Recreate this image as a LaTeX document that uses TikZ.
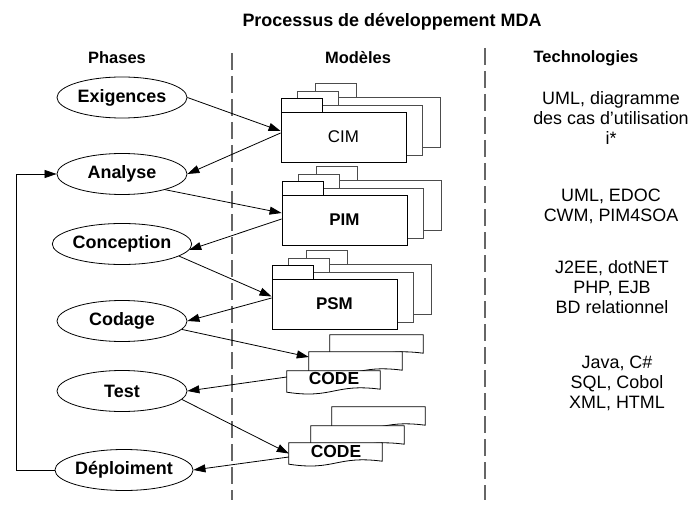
\documentclass[tikz,border=0pt]{standalone}
\usepackage{fontspec}
\setmainfont{Liberation Sans}
\usetikzlibrary{shapes.geometric,arrows.meta}
\newcommand\pkgstack[4]{%
  \foreach \dx/\dy in {34/15, 16/7} {
    \draw[backline] (#2+\dx, #3-\dy) rectangle ++(125,50);
    \draw[backline] (#2+\dx, #3-\dy) rectangle ++(41,-14);
  }
  \draw[frontline] (#2,#3) rectangle ++(41,-14);
  \node[pkgbox] (#1) at (#2+62.5, #3+25) {#4};
}
\newcommand\docshape[1]{%
  \draw[frontline] (#1.north west) -- (#1.north east) -- ([yshift=3bp]#1.south east)
    .. controls ([xshift=-46bp,yshift=9bp]#1.south east) and ([xshift=46bp,yshift=-7bp]#1.south west) .. (#1.south west) -- cycle;}
\begin{document}
\begin{tikzpicture}[x=1bp,y=-1bp,
  phase/.style={ellipse, draw, line width=0.8bp, minimum width=130bp, minimum height=41bp, inner sep=0pt, fill=white, font=\fontsize{18}{20}\selectfont\bfseries},
  pkgbox/.style={rectangle, draw=black, line width=0.8bp, fill=white, minimum width=125bp, minimum height=50bp, inner sep=0pt, font=\fontsize{17}{19.5}\selectfont},
  backline/.style={draw=black!70, line width=0.8bp, fill=white},
  frontline/.style={draw=black, line width=0.8bp, fill=white},
  docbox/.style={rectangle, minimum width=93bp, minimum height=21bp, inner sep=0pt},
  doctext/.style={font=\fontsize{17.5}{19.5}\selectfont\bfseries, inner sep=0pt},
  arr/.style={-{Triangle[length=12bp,width=8bp]}, line width=0.8bp},
  sepline/.style={draw=black!60, line width=1.2bp, dash pattern=on 17bp off 6bp},
  hdr/.style={font=\fontsize{16.5}{19}\selectfont\bfseries},
  tech/.style={align=center, inner sep=0pt, font=\fontsize{18}{20}\selectfont}
]
\useasboundingbox (0,0) rectangle (690,506);

% title and headers
\node[font=\fontsize{18}{21}\selectfont\bfseries] (title) at (392,22) {Processus de développement MDA};
\node[hdr] (hphases) at (117,58) {Phases};
\node[hdr] (hmodeles) at (358,58) {Modèles};
\node[hdr] (htech) at (586,58) {Technologies};

% separators
\coordinate (s1a) at (232,53);
\coordinate (s1b) at (232,500);
\coordinate (s2a) at (485,48);
\coordinate (s2b) at (485,500);
\draw[sepline] (s1a) -- (s1b);
\draw[sepline] (s2a) -- (s2b);

% phases
\node[phase] (exig) at (122,97.5) {Exigences};
\node[phase] (anal) at (122,174) {Analyse};
\node[phase] (conc) at (122,244) {Conception};
\node[phase] (coda) at (122,321) {Codage};
\node[phase] (test) at (122,391) {Test};
\node[phase, minimum width=132bp] (depl) at (124,470) {Déploiment};

% packages
\pkgstack{cim}{281}{112}{CIM}
\pkgstack{pim}{282}{195}{\bfseries PIM}
\pkgstack{psm}{272}{279}{\bfseries PSM}

% code documents, group 1
\node[docbox] (c1c) at (376.5,345.5) {};
\docshape{c1c}
\node[docbox] (c1b) at (355.5,362.5) {};
\docshape{c1b}
\node[docbox] (c1a) at (333.5,381.5) {};
\docshape{c1a}
\node[doctext] (c1t) at (334,378.5) {CODE};

% code documents, group 2
\node[docbox] (c2c) at (378.5,417.5) {};
\docshape{c2c}
\node[docbox] (c2b) at (357.5,436.5) {};
\docshape{c2b}
\node[docbox] (c2a) at (335.5,453.5) {};
\docshape{c2a}
\node[doctext] (c2t) at (336,451) {CODE};

% technologies
\node[tech] (t1) at (611,118) {UML, diagramme\\des cas d’utilisation\\i*};
\node[tech] (t2) at (611,206) {UML, EDOC\\CWM, PIM4SOA};
\node[tech] (t3) at (612,287) {J2EE, dotNET\\PHP, EJB\\BD relationnel};
\node[tech] (t4) at (617,383) {Java, C\#\\SQL, Cobol\\XML, HTML};

% connectors
\draw[arr] (exig.east) -- ([yshift=6bp]cim.west);
\draw[arr] ([yshift=4bp]cim.west) -- (anal.east);
\draw[arr] (anal.-20) -- ([yshift=7bp]pim.west);
\draw[arr] ([yshift=1bp]pim.west) -- (conc.-5);
\draw[arr] (conc.-12) -- ([yshift=7.5bp]psm.west);
\draw[arr] ([yshift=6bp]psm.west) -- (coda.east);
\draw[arr] (coda.-8) -- ([yshift=5.5bp]c1b.west);
\draw[arr] ([yshift=4.5bp]c1a.west) -- (test.east);
\draw[arr] (test.-8) -- (c2a.west);
\draw[arr] ([yshift=-3.5bp]c2a.west) -- (depl.east);

% feedback loop
\coordinate (fb) at (16,470);
\draw[arr] (depl.west) -- (fb) |- (anal.west);
\end{tikzpicture}
\end{document}
